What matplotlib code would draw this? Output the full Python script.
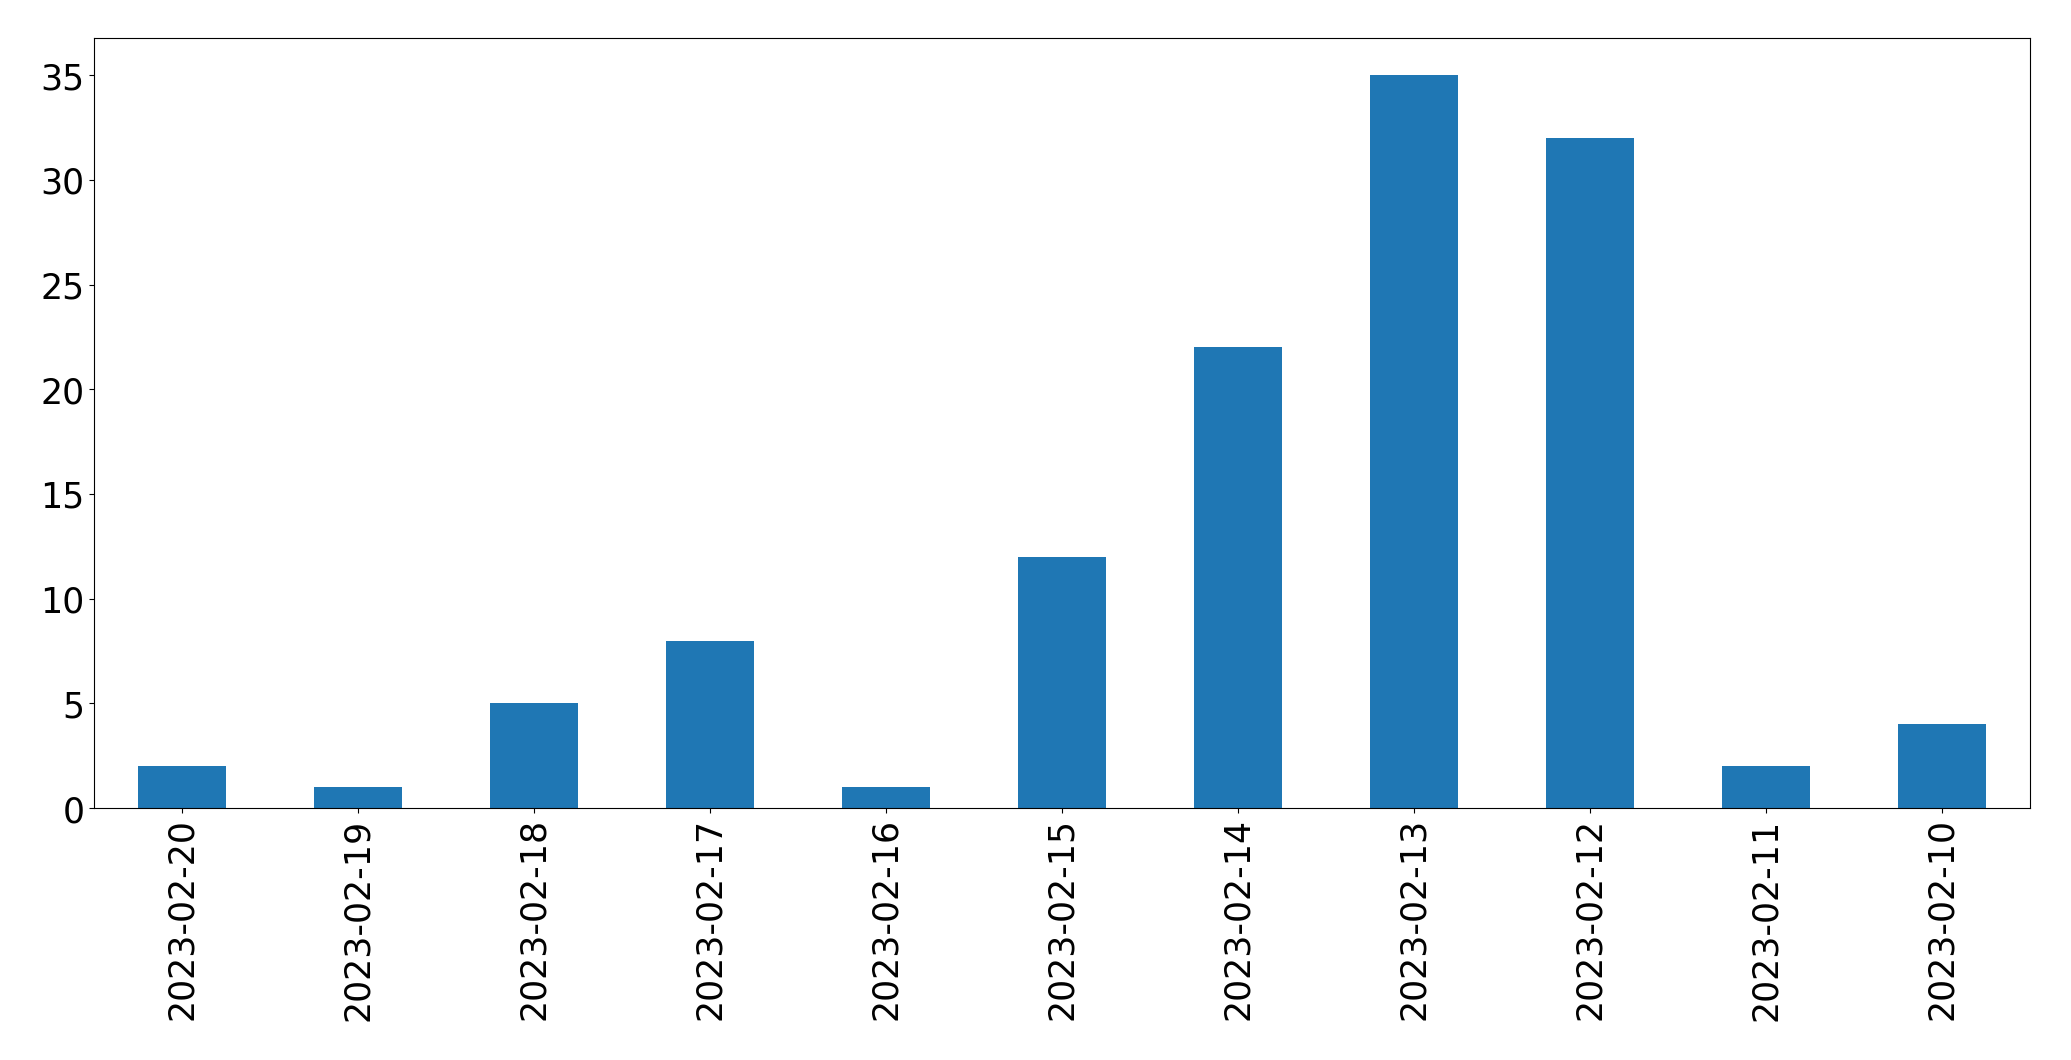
import matplotlib
matplotlib.use("Agg")
import matplotlib.pyplot as plt
import pandas as pd

dates = ["2023-02-20", "2023-02-19", "2023-02-18", "2023-02-17", "2023-02-16",
         "2023-02-15", "2023-02-14", "2023-02-13", "2023-02-12", "2023-02-11",
         "2023-02-10"]
counts = [2, 1, 5, 8, 1, 12, 22, 35, 32, 2, 4]

fig = plt.figure(figsize=(20.71, 10.605), dpi=100)
ax = fig.add_axes([94/2071, 1 - 809/1061, (2030 - 94)/2071, (809 - 39)/1061])
s = pd.Series(counts, index=dates)
s.plot.bar(ax=ax, color="#1f77b4", fontsize=25)
ax.tick_params(axis="x", labelrotation=90)
fig.savefig("out.png", dpi=100)
